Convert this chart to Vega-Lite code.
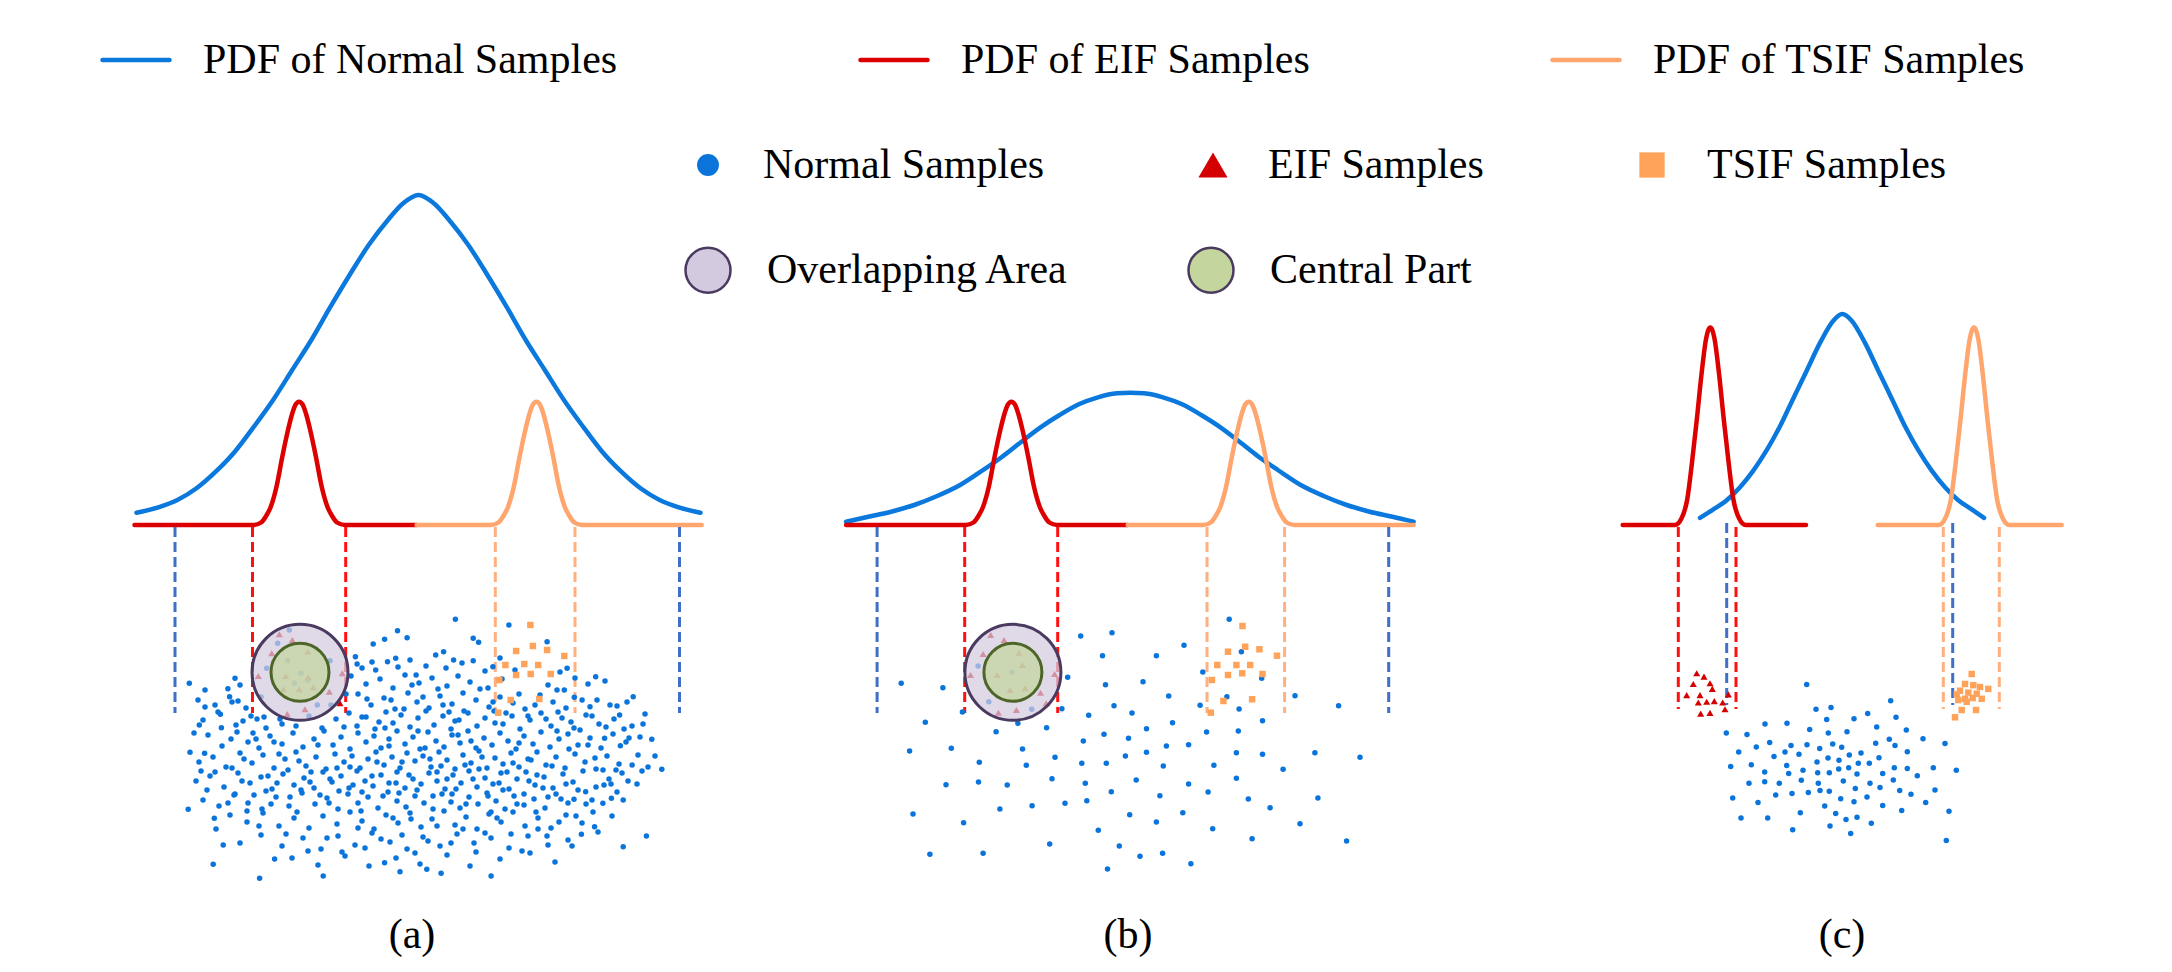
{
"$schema":"https://vega.github.io/schema/vega-lite/v6.json",
"width":2172,"height":972,
"autosize":{"type":"fit","contains":"padding"},
"padding":0,
"background":"white",
"config":{"view":{"stroke":null}},
"datasets":{
"curves":[
{"c":"aN","s":"PN","x":136.5,"y":512.7},{"c":"aN","s":"PN","x":158.3,"y":507.3},{"c":"aN","s":"PN","x":177.4,"y":500},{"c":"aN","s":"PN","x":196.5,"y":488.3},{"c":"aN","s":"PN","x":215.7,"y":471.7},{"c":"aN","s":"PN","x":234.8,"y":451.7},{"c":"aN","s":"PN","x":253.9,"y":426.7},{"c":"aN","s":"PN","x":273.1,"y":400},{"c":"aN","s":"PN","x":292.2,"y":370},{"c":"aN","s":"PN","x":311.3,"y":340},{"c":"aN","s":"PN","x":330.5,"y":306.7},{"c":"aN","s":"PN","x":349.6,"y":275},{"c":"aN","s":"PN","x":368.7,"y":245},{"c":"aN","s":"PN","x":387.9,"y":220},{"c":"aN","s":"PN","x":403.2,"y":203.3},{"c":"aN","s":"PN","x":418.5,"y":195},{"c":"aN","s":"PN","x":433.8,"y":203.3},{"c":"aN","s":"PN","x":449.1,"y":220},{"c":"aN","s":"PN","x":468.3,"y":245},{"c":"aN","s":"PN","x":487.4,"y":275},{"c":"aN","s":"PN","x":506.5,"y":306.7},{"c":"aN","s":"PN","x":525.7,"y":340},{"c":"aN","s":"PN","x":544.8,"y":370},{"c":"aN","s":"PN","x":563.9,"y":400},{"c":"aN","s":"PN","x":583.1,"y":426.7},{"c":"aN","s":"PN","x":602.2,"y":451.7},{"c":"aN","s":"PN","x":621.3,"y":471.7},{"c":"aN","s":"PN","x":640.5,"y":488.3},{"c":"aN","s":"PN","x":659.6,"y":500},{"c":"aN","s":"PN","x":678.7,"y":507.3},{"c":"aN","s":"PN","x":700.5,"y":512.7},
{"c":"aE","s":"PE","x":134.5,"y":525},{"c":"aE","s":"PE","x":253.6,"y":525},{"c":"aE","s":"PE","x":261.1,"y":522.5},{"c":"aE","s":"PE","x":266.1,"y":516},{"c":"aE","s":"PE","x":270.8,"y":506.7},{"c":"aE","s":"PE","x":276.5,"y":486.7},{"c":"aE","s":"PE","x":282.3,"y":456.7},{"c":"aE","s":"PE","x":288,"y":430},{"c":"aE","s":"PE","x":292.1,"y":414},{"c":"aE","s":"PE","x":295.6,"y":404.5},{"c":"aE","s":"PE","x":299.1,"y":401.7},{"c":"aE","s":"PE","x":302.6,"y":404.5},{"c":"aE","s":"PE","x":306.1,"y":414},{"c":"aE","s":"PE","x":310.2,"y":430},{"c":"aE","s":"PE","x":315.9,"y":456.7},{"c":"aE","s":"PE","x":321.7,"y":486.7},{"c":"aE","s":"PE","x":327.4,"y":506.7},{"c":"aE","s":"PE","x":332.1,"y":516},{"c":"aE","s":"PE","x":337.1,"y":522.5},{"c":"aE","s":"PE","x":344.6,"y":525},{"c":"aE","s":"PE","x":416.6,"y":525},
{"c":"aT","s":"PT","x":416.6,"y":525},{"c":"aT","s":"PT","x":490.9,"y":525},{"c":"aT","s":"PT","x":498.4,"y":522.5},{"c":"aT","s":"PT","x":503.4,"y":516},{"c":"aT","s":"PT","x":508.1,"y":506.7},{"c":"aT","s":"PT","x":513.8,"y":486.7},{"c":"aT","s":"PT","x":519.6,"y":456.7},{"c":"aT","s":"PT","x":525.3,"y":430},{"c":"aT","s":"PT","x":529.4,"y":414},{"c":"aT","s":"PT","x":532.9,"y":404.5},{"c":"aT","s":"PT","x":536.4,"y":401.7},{"c":"aT","s":"PT","x":539.9,"y":404.5},{"c":"aT","s":"PT","x":543.4,"y":414},{"c":"aT","s":"PT","x":547.5,"y":430},{"c":"aT","s":"PT","x":553.2,"y":456.7},{"c":"aT","s":"PT","x":559,"y":486.7},{"c":"aT","s":"PT","x":564.7,"y":506.7},{"c":"aT","s":"PT","x":569.4,"y":516},{"c":"aT","s":"PT","x":574.4,"y":522.5},{"c":"aT","s":"PT","x":581.9,"y":525},{"c":"aT","s":"PT","x":701.7,"y":525},
{"c":"bN","s":"PN","x":846.1,"y":521.7},{"c":"bN","s":"PN","x":868.3,"y":516.7},{"c":"bN","s":"PN","x":891.2,"y":511.7},{"c":"bN","s":"PN","x":914.2,"y":505},{"c":"bN","s":"PN","x":937.2,"y":496},{"c":"bN","s":"PN","x":960.1,"y":485},{"c":"bN","s":"PN","x":983.1,"y":470},{"c":"bN","s":"PN","x":1002.2,"y":456.7},{"c":"bN","s":"PN","x":1021.4,"y":441.7},{"c":"bN","s":"PN","x":1040.5,"y":427.3},{"c":"bN","s":"PN","x":1059.6,"y":415},{"c":"bN","s":"PN","x":1078.8,"y":404.3},{"c":"bN","s":"PN","x":1097.9,"y":397.3},{"c":"bN","s":"PN","x":1117,"y":393.3},{"c":"bN","s":"PN","x":1130.4,"y":392.7},{"c":"bN","s":"PN","x":1143.8,"y":393.3},{"c":"bN","s":"PN","x":1163,"y":397.3},{"c":"bN","s":"PN","x":1182.1,"y":404.3},{"c":"bN","s":"PN","x":1201.2,"y":415},{"c":"bN","s":"PN","x":1220.4,"y":427.3},{"c":"bN","s":"PN","x":1239.5,"y":441.7},{"c":"bN","s":"PN","x":1258.6,"y":456.7},{"c":"bN","s":"PN","x":1277.8,"y":470},{"c":"bN","s":"PN","x":1300.7,"y":485},{"c":"bN","s":"PN","x":1323.7,"y":496},{"c":"bN","s":"PN","x":1346.7,"y":505},{"c":"bN","s":"PN","x":1369.6,"y":511.7},{"c":"bN","s":"PN","x":1392.6,"y":516.7},{"c":"bN","s":"PN","x":1413.6,"y":521.7},
{"c":"bE","s":"PE","x":846.1,"y":525},{"c":"bE","s":"PE","x":965.9,"y":525},{"c":"bE","s":"PE","x":973.4,"y":522.5},{"c":"bE","s":"PE","x":978.4,"y":516},{"c":"bE","s":"PE","x":983.1,"y":506.7},{"c":"bE","s":"PE","x":988.8,"y":486.7},{"c":"bE","s":"PE","x":994.6,"y":456.7},{"c":"bE","s":"PE","x":1000.3,"y":430},{"c":"bE","s":"PE","x":1004.4,"y":414},{"c":"bE","s":"PE","x":1007.9,"y":404.5},{"c":"bE","s":"PE","x":1011.4,"y":401.7},{"c":"bE","s":"PE","x":1014.9,"y":404.5},{"c":"bE","s":"PE","x":1018.4,"y":414},{"c":"bE","s":"PE","x":1022.5,"y":430},{"c":"bE","s":"PE","x":1028.2,"y":456.7},{"c":"bE","s":"PE","x":1034,"y":486.7},{"c":"bE","s":"PE","x":1039.7,"y":506.7},{"c":"bE","s":"PE","x":1044.4,"y":516},{"c":"bE","s":"PE","x":1049.4,"y":522.5},{"c":"bE","s":"PE","x":1056.9,"y":525},{"c":"bE","s":"PE","x":1127.7,"y":525},
{"c":"bT","s":"PT","x":1127.7,"y":525},{"c":"bT","s":"PT","x":1203.2,"y":525},{"c":"bT","s":"PT","x":1210.7,"y":522.5},{"c":"bT","s":"PT","x":1215.7,"y":516},{"c":"bT","s":"PT","x":1220.4,"y":506.7},{"c":"bT","s":"PT","x":1226.1,"y":486.7},{"c":"bT","s":"PT","x":1231.9,"y":456.7},{"c":"bT","s":"PT","x":1237.6,"y":430},{"c":"bT","s":"PT","x":1241.7,"y":414},{"c":"bT","s":"PT","x":1245.2,"y":404.5},{"c":"bT","s":"PT","x":1248.7,"y":401.7},{"c":"bT","s":"PT","x":1252.2,"y":404.5},{"c":"bT","s":"PT","x":1255.7,"y":414},{"c":"bT","s":"PT","x":1259.8,"y":430},{"c":"bT","s":"PT","x":1265.5,"y":456.7},{"c":"bT","s":"PT","x":1271.3,"y":486.7},{"c":"bT","s":"PT","x":1277,"y":506.7},{"c":"bT","s":"PT","x":1281.7,"y":516},{"c":"bT","s":"PT","x":1286.7,"y":522.5},{"c":"bT","s":"PT","x":1294.2,"y":525},{"c":"bT","s":"PT","x":1413.6,"y":525},
{"c":"cN","s":"PN","x":1700,"y":517.9},{"c":"cN","s":"PN","x":1713.3,"y":509.4},{"c":"cN","s":"PN","x":1726.7,"y":500.2},{"c":"cN","s":"PN","x":1740,"y":487.2},{"c":"cN","s":"PN","x":1753.3,"y":470.6},{"c":"cN","s":"PN","x":1766.7,"y":450.2},{"c":"cN","s":"PN","x":1780,"y":426.2},{"c":"cN","s":"PN","x":1793.3,"y":398.4},{"c":"cN","s":"PN","x":1806.7,"y":370.7},{"c":"cN","s":"PN","x":1820,"y":342.9},{"c":"cN","s":"PN","x":1833.3,"y":320.7},{"c":"cN","s":"PN","x":1842.3,"y":314},{"c":"cN","s":"PN","x":1851.7,"y":320.7},{"c":"cN","s":"PN","x":1865,"y":342.9},{"c":"cN","s":"PN","x":1878.3,"y":370.7},{"c":"cN","s":"PN","x":1891.7,"y":398.4},{"c":"cN","s":"PN","x":1905,"y":426.2},{"c":"cN","s":"PN","x":1918.3,"y":450.2},{"c":"cN","s":"PN","x":1931.7,"y":470.6},{"c":"cN","s":"PN","x":1945,"y":487.2},{"c":"cN","s":"PN","x":1958.3,"y":500.2},{"c":"cN","s":"PN","x":1971.7,"y":509.4},{"c":"cN","s":"PN","x":1984,"y":517.9},
{"c":"cE","s":"PE","x":1622.7,"y":525},{"c":"cE","s":"PE","x":1675,"y":525},{"c":"cE","s":"PE","x":1681.7,"y":518},{"c":"cE","s":"PE","x":1687.3,"y":499},{"c":"cE","s":"PE","x":1691.7,"y":465},{"c":"cE","s":"PE","x":1696.7,"y":420.6},{"c":"cE","s":"PE","x":1701.7,"y":372.5},{"c":"cE","s":"PE","x":1706,"y":339.2},{"c":"cE","s":"PE","x":1708.3,"y":330},{"c":"cE","s":"PE","x":1710.3,"y":327.4},{"c":"cE","s":"PE","x":1712.3,"y":330},{"c":"cE","s":"PE","x":1714.6,"y":339.2},{"c":"cE","s":"PE","x":1718.9,"y":372.5},{"c":"cE","s":"PE","x":1723.9,"y":420.6},{"c":"cE","s":"PE","x":1728.9,"y":465},{"c":"cE","s":"PE","x":1733.3,"y":499},{"c":"cE","s":"PE","x":1738.9,"y":518},{"c":"cE","s":"PE","x":1745.6,"y":525},{"c":"cE","s":"PE","x":1806,"y":525},
{"c":"cT","s":"PT","x":1877.7,"y":525},{"c":"cT","s":"PT","x":1938.7,"y":525},{"c":"cT","s":"PT","x":1945.4,"y":518},{"c":"cT","s":"PT","x":1951,"y":499},{"c":"cT","s":"PT","x":1955.4,"y":465},{"c":"cT","s":"PT","x":1960.4,"y":420.6},{"c":"cT","s":"PT","x":1965.4,"y":372.5},{"c":"cT","s":"PT","x":1969.7,"y":339.2},{"c":"cT","s":"PT","x":1972,"y":330},{"c":"cT","s":"PT","x":1974,"y":327.4},{"c":"cT","s":"PT","x":1976,"y":330},{"c":"cT","s":"PT","x":1978.3,"y":339.2},{"c":"cT","s":"PT","x":1982.6,"y":372.5},{"c":"cT","s":"PT","x":1987.6,"y":420.6},{"c":"cT","s":"PT","x":1992.6,"y":465},{"c":"cT","s":"PT","x":1997,"y":499},{"c":"cT","s":"PT","x":2002.6,"y":518},{"c":"cT","s":"PT","x":2009.3,"y":525},{"c":"cT","s":"PT","x":2061.7,"y":525}
],
"rules":[
{"d":"N","x":175,"y":527,"y2":713},{"d":"N","x":679.5,"y":527,"y2":713},{"d":"E","x":252.5,"y":527,"y2":713},{"d":"E","x":345.7,"y":527,"y2":713},{"d":"T","x":495.3,"y":527,"y2":713},{"d":"T","x":575,"y":527,"y2":713},
{"d":"N","x":877.1,"y":527,"y2":713},{"d":"N","x":1388.7,"y":527,"y2":713},{"d":"E","x":964.7,"y":527,"y2":713},{"d":"E","x":1057.7,"y":527,"y2":713},{"d":"T","x":1207,"y":527,"y2":713},{"d":"T","x":1284.6,"y":527,"y2":713},
{"d":"E","x":1678.3,"y":527,"y2":709},{"d":"E","x":1736,"y":527,"y2":709},{"d":"N","x":1726.7,"y":523,"y2":705},{"d":"N","x":1952.7,"y":523,"y2":705},{"d":"T","x":1943.3,"y":527,"y2":709},{"d":"T","x":1999.3,"y":527,"y2":709}
],
"pts":[
{"k":"N","x":189.3,"y":683.3},{"k":"N","x":199.3,"y":725},{"k":"N","x":190,"y":752.3},{"k":"N","x":204.6,"y":753.3},{"k":"N","x":188.2,"y":809.3},{"k":"N","x":214.3,"y":818.3},{"k":"N","x":213.2,"y":864.3},{"k":"N","x":223.2,"y":845},{"k":"N","x":259.6,"y":878.3},{"k":"N","x":274.6,"y":859},{"k":"N","x":323.2,"y":876},{"k":"N","x":235,"y":678.3},{"k":"N","x":227.9,"y":688.7},{"k":"N","x":229.6,"y":696.7},{"k":"N","x":220.4,"y":714.3},{"k":"N","x":221.4,"y":727.7},{"k":"N","x":455.4,"y":619.3},{"k":"N","x":397.5,"y":630.7},{"k":"N","x":407.1,"y":637.7},{"k":"N","x":384.6,"y":639.3},{"k":"N","x":373.2,"y":644},{"k":"N","x":508.9,"y":625},{"k":"N","x":473.2,"y":638.3},{"k":"N","x":478.6,"y":642.3},{"k":"N","x":595.7,"y":676.7},{"k":"N","x":633.2,"y":696.7},{"k":"N","x":619.6,"y":715},{"k":"N","x":651.8,"y":739.3},{"k":"N","x":661.8,"y":769.3},{"k":"N","x":646.4,"y":836},{"k":"N","x":623.2,"y":846.7},{"k":"N","x":581.4,"y":834.3},{"k":"N","x":491.1,"y":876},{"k":"N","x":441.1,"y":873.3},{"k":"N","x":426.8,"y":869.3},{"k":"N","x":400,"y":871.7},{"k":"N","x":384.6,"y":862.7},{"k":"N","x":355.4,"y":656.7},{"k":"N","x":357.1,"y":664},{"k":"N","x":375.7,"y":670},{"k":"N","x":387.5,"y":661.7},{"k":"N","x":395.7,"y":658.3},{"k":"N","x":416.1,"y":675},{"k":"N","x":435.7,"y":655},{"k":"N","x":443.6,"y":651.7},{"k":"N","x":453.6,"y":660},{"k":"N","x":473.2,"y":660.7},{"k":"N","x":492.9,"y":666.7},{"k":"N","x":547.1,"y":641.7},{"k":"N","x":567.1,"y":668.3},{"k":"N","x":564.3,"y":690},{"k":"N","x":574.3,"y":697.3},{"k":"N","x":582.1,"y":700},{"k":"N","x":590,"y":706.7},{"k":"N","x":604.6,"y":738.3},{"k":"N","x":620.4,"y":745.7},{"k":"N","x":632.1,"y":765},{"k":"N","x":623.2,"y":800},{"k":"N","x":611.4,"y":798.3},{"k":"N","x":602.9,"y":803.3},{"k":"N","x":594.6,"y":826.7},{"k":"N","x":585.7,"y":791.7},{"k":"N","x":574,"y":799.3},
{"k":"N","x":362,"y":668},{"k":"N","x":372,"y":662},{"k":"N","x":398,"y":667},{"k":"N","x":410,"y":660},{"k":"N","x":426,"y":666},{"k":"N","x":446,"y":668},{"k":"N","x":462,"y":663},{"k":"N","x":485,"y":671},{"k":"N","x":500,"y":658},{"k":"N","x":515,"y":670},{"k":"N","x":560,"y":672},{"k":"N","x":575,"y":678},
{"k":"N","x":205,"y":690},{"k":"N","x":240,"y":685},{"k":"N","x":351,"y":676},{"k":"N","x":366,"y":684},{"k":"N","x":380,"y":679},{"k":"N","x":393,"y":688},{"k":"N","x":405,"y":675},{"k":"N","x":419,"y":683},{"k":"N","x":432,"y":678},{"k":"N","x":447,"y":686},{"k":"N","x":458,"y":676},{"k":"N","x":470,"y":682},{"k":"N","x":488,"y":688},{"k":"N","x":502,"y":679},{"k":"N","x":548,"y":685},{"k":"N","x":557,"y":690},{"k":"N","x":588,"y":684},{"k":"N","x":605,"y":681},
{"k":"N","x":198,"y":700},{"k":"N","x":215,"y":705},{"k":"N","x":232,"y":702},{"k":"N","x":246,"y":708},{"k":"N","x":261,"y":697},{"k":"N","x":358,"y":694},{"k":"N","x":371,"y":705},{"k":"N","x":384,"y":698},{"k":"N","x":395,"y":709},{"k":"N","x":408,"y":693},{"k":"N","x":417,"y":702},{"k":"N","x":429,"y":708},{"k":"N","x":440,"y":696},{"k":"N","x":452,"y":704},{"k":"N","x":463,"y":693},{"k":"N","x":476,"y":700},{"k":"N","x":489,"y":707},{"k":"N","x":500,"y":697},{"k":"N","x":513,"y":703},{"k":"N","x":525,"y":709},{"k":"N","x":540,"y":695},{"k":"N","x":553,"y":702},{"k":"N","x":566,"y":708},{"k":"N","x":597,"y":700},{"k":"N","x":610,"y":705},{"k":"N","x":627,"y":702},
{"k":"N","x":203,"y":720},{"k":"N","x":218,"y":712},{"k":"N","x":236,"y":725},{"k":"N","x":251,"y":716},{"k":"N","x":266,"y":728},{"k":"N","x":280,"y":719},{"k":"N","x":296,"y":726},{"k":"N","x":309,"y":716},{"k":"N","x":322,"y":728},{"k":"N","x":336,"y":719},{"k":"N","x":349,"y":713},{"k":"N","x":357,"y":726},{"k":"N","x":366,"y":717},{"k":"N","x":375,"y":729},{"k":"N","x":386,"y":712},{"k":"N","x":393,"y":723},{"k":"N","x":401,"y":715},{"k":"N","x":410,"y":727},{"k":"N","x":418,"y":718},{"k":"N","x":426,"y":711},{"k":"N","x":434,"y":725},{"k":"N","x":443,"y":716},{"k":"N","x":451,"y":729},{"k":"N","x":459,"y":720},{"k":"N","x":468,"y":713},{"k":"N","x":477,"y":726},{"k":"N","x":485,"y":718},{"k":"N","x":494,"y":711},{"k":"N","x":503,"y":724},{"k":"N","x":512,"y":716},{"k":"N","x":520,"y":729},{"k":"N","x":530,"y":720},{"k":"N","x":541,"y":713},{"k":"N","x":551,"y":726},{"k":"N","x":562,"y":718},{"k":"N","x":574,"y":728},{"k":"N","x":586,"y":715},{"k":"N","x":599,"y":724},{"k":"N","x":614,"y":719},{"k":"N","x":632,"y":726},{"k":"N","x":645,"y":714},
{"k":"N","x":208,"y":735},{"k":"N","x":222,"y":746},{"k":"N","x":237,"y":732},{"k":"N","x":248,"y":742},{"k":"N","x":259,"y":748},{"k":"N","x":270,"y":736},{"k":"N","x":282,"y":744},{"k":"N","x":293,"y":733},{"k":"N","x":303,"y":747},{"k":"N","x":314,"y":739},{"k":"N","x":324,"y":731},{"k":"N","x":333,"y":745},{"k":"N","x":341,"y":737},{"k":"N","x":350,"y":749},{"k":"N","x":358,"y":733},{"k":"N","x":366,"y":742},{"k":"N","x":374,"y":736},{"k":"N","x":381,"y":748},{"k":"N","x":389,"y":739},{"k":"N","x":397,"y":731},{"k":"N","x":405,"y":744},{"k":"N","x":413,"y":737},{"k":"N","x":420,"y":749},{"k":"N","x":428,"y":732},{"k":"N","x":436,"y":741},{"k":"N","x":444,"y":747},{"k":"N","x":452,"y":735},{"k":"N","x":460,"y":743},{"k":"N","x":468,"y":731},{"k":"N","x":476,"y":748},{"k":"N","x":484,"y":738},{"k":"N","x":492,"y":745},{"k":"N","x":500,"y":733},{"k":"N","x":508,"y":741},{"k":"N","x":516,"y":749},{"k":"N","x":524,"y":736},{"k":"N","x":533,"y":744},{"k":"N","x":541,"y":732},{"k":"N","x":550,"y":747},{"k":"N","x":559,"y":739},{"k":"N","x":568,"y":734},{"k":"N","x":578,"y":745},{"k":"N","x":590,"y":738},{"k":"N","x":601,"y":748},{"k":"N","x":613,"y":734},{"k":"N","x":626,"y":742},{"k":"N","x":640,"y":737},
{"k":"N","x":199,"y":762},{"k":"N","x":213,"y":757},{"k":"N","x":226,"y":767},{"k":"N","x":240,"y":753},{"k":"N","x":252,"y":763},{"k":"N","x":263,"y":755},{"k":"N","x":274,"y":768},{"k":"N","x":285,"y":759},{"k":"N","x":296,"y":752},{"k":"N","x":306,"y":766},{"k":"N","x":316,"y":757},{"k":"N","x":326,"y":769},{"k":"N","x":335,"y":754},{"k":"N","x":344,"y":762},{"k":"N","x":352,"y":756},{"k":"N","x":360,"y":768},{"k":"N","x":368,"y":759},{"k":"N","x":376,"y":752},{"k":"N","x":384,"y":765},{"k":"N","x":392,"y":757},{"k":"N","x":400,"y":768},{"k":"N","x":407,"y":753},{"k":"N","x":415,"y":761},{"k":"N","x":423,"y":756},{"k":"N","x":431,"y":767},{"k":"N","x":439,"y":752},{"k":"N","x":447,"y":760},{"k":"N","x":455,"y":769},{"k":"N","x":463,"y":755},{"k":"N","x":471,"y":763},{"k":"N","x":479,"y":751},{"k":"N","x":487,"y":768},{"k":"N","x":495,"y":758},{"k":"N","x":503,"y":764},{"k":"N","x":511,"y":753},{"k":"N","x":519,"y":767},{"k":"N","x":528,"y":759},{"k":"N","x":537,"y":752},{"k":"N","x":546,"y":765},{"k":"N","x":556,"y":757},{"k":"N","x":565,"y":768},{"k":"N","x":575,"y":754},{"k":"N","x":585,"y":762},{"k":"N","x":596,"y":769},{"k":"N","x":607,"y":756},{"k":"N","x":619,"y":764},{"k":"N","x":648,"y":767},
{"k":"N","x":196,"y":781},{"k":"N","x":210,"y":776},{"k":"N","x":224,"y":787},{"k":"N","x":238,"y":773},{"k":"N","x":250,"y":783},{"k":"N","x":261,"y":777},{"k":"N","x":272,"y":789},{"k":"N","x":283,"y":774},{"k":"N","x":294,"y":785},{"k":"N","x":304,"y":778},{"k":"N","x":314,"y":788},{"k":"N","x":323,"y":772},{"k":"N","x":332,"y":782},{"k":"N","x":341,"y":776},{"k":"N","x":349,"y":788},{"k":"N","x":357,"y":771},{"k":"N","x":365,"y":781},{"k":"N","x":373,"y":786},{"k":"N","x":381,"y":775},{"k":"N","x":389,"y":783},{"k":"N","x":397,"y":772},{"k":"N","x":405,"y":788},{"k":"N","x":413,"y":779},{"k":"N","x":421,"y":784},{"k":"N","x":429,"y":773},{"k":"N","x":437,"y":781},{"k":"N","x":445,"y":789},{"k":"N","x":453,"y":775},{"k":"N","x":461,"y":783},{"k":"N","x":469,"y":771},{"k":"N","x":477,"y":787},{"k":"N","x":485,"y":778},{"k":"N","x":493,"y":784},{"k":"N","x":501,"y":773},{"k":"N","x":509,"y":789},{"k":"N","x":517,"y":779},{"k":"N","x":526,"y":772},{"k":"N","x":535,"y":785},{"k":"N","x":544,"y":777},{"k":"N","x":553,"y":788},{"k":"N","x":563,"y":774},{"k":"N","x":573,"y":782},{"k":"N","x":596,"y":787},{"k":"N","x":609,"y":779},{"k":"N","x":622,"y":773},{"k":"N","x":637,"y":784},
{"k":"N","x":203,"y":800},{"k":"N","x":219,"y":806},{"k":"N","x":234,"y":795},{"k":"N","x":248,"y":803},{"k":"N","x":262,"y":809},{"k":"N","x":276,"y":797},{"k":"N","x":289,"y":806},{"k":"N","x":302,"y":793},{"k":"N","x":315,"y":804},{"k":"N","x":327,"y":798},{"k":"N","x":338,"y":809},{"k":"N","x":348,"y":794},{"k":"N","x":358,"y":803},{"k":"N","x":368,"y":797},{"k":"N","x":378,"y":808},{"k":"N","x":388,"y":792},{"k":"N","x":397,"y":801},{"k":"N","x":406,"y":807},{"k":"N","x":415,"y":796},{"k":"N","x":424,"y":803},{"k":"N","x":433,"y":809},{"k":"N","x":442,"y":794},{"k":"N","x":451,"y":802},{"k":"N","x":460,"y":808},{"k":"N","x":469,"y":797},{"k":"N","x":478,"y":804},{"k":"N","x":487,"y":793},{"k":"N","x":496,"y":801},{"k":"N","x":505,"y":809},{"k":"N","x":514,"y":796},{"k":"N","x":524,"y":805},{"k":"N","x":534,"y":799},{"k":"N","x":545,"y":808},{"k":"N","x":556,"y":794},{"k":"N","x":568,"y":803},{"k":"N","x":593,"y":812},
{"k":"N","x":230,"y":815},{"k":"N","x":247,"y":822},{"k":"N","x":263,"y":813},{"k":"N","x":279,"y":826},{"k":"N","x":294,"y":818},{"k":"N","x":309,"y":828},{"k":"N","x":323,"y":816},{"k":"N","x":337,"y":824},{"k":"N","x":350,"y":812},{"k":"N","x":362,"y":821},{"k":"N","x":374,"y":829},{"k":"N","x":386,"y":815},{"k":"N","x":398,"y":823},{"k":"N","x":410,"y":813},{"k":"N","x":421,"y":827},{"k":"N","x":432,"y":819},{"k":"N","x":444,"y":811},{"k":"N","x":455,"y":825},{"k":"N","x":466,"y":817},{"k":"N","x":477,"y":829},{"k":"N","x":489,"y":814},{"k":"N","x":501,"y":822},{"k":"N","x":513,"y":812},{"k":"N","x":525,"y":826},{"k":"N","x":538,"y":818},{"k":"N","x":551,"y":828},{"k":"N","x":566,"y":815},{"k":"N","x":582,"y":823},
{"k":"N","x":240,"y":843},{"k":"N","x":261,"y":835},{"k":"N","x":282,"y":846},{"k":"N","x":303,"y":838},{"k":"N","x":321,"y":849},{"k":"N","x":338,"y":836},{"k":"N","x":355,"y":845},{"k":"N","x":372,"y":833},{"k":"N","x":390,"y":842},{"k":"N","x":407,"y":849},{"k":"N","x":423,"y":837},{"k":"N","x":440,"y":846},{"k":"N","x":457,"y":834},{"k":"N","x":474,"y":843},{"k":"N","x":491,"y":838},{"k":"N","x":509,"y":848},{"k":"N","x":528,"y":836},{"k":"N","x":548,"y":845},{"k":"N","x":568,"y":840},
{"k":"N","x":292,"y":858},{"k":"N","x":318,"y":865},{"k":"N","x":345,"y":856},{"k":"N","x":369,"y":866},{"k":"N","x":396,"y":858},{"k":"N","x":420,"y":864},{"k":"N","x":447,"y":855},{"k":"N","x":470,"y":866},{"k":"N","x":500,"y":859},{"k":"N","x":530,"y":853},{"k":"N","x":555,"y":862},
{"k":"N","x":331,"y":705},{"k":"N","x":344,"y":727},{"k":"N","x":367,"y":699},{"k":"N","x":389,"y":746},{"k":"N","x":402,"y":762},{"k":"N","x":418,"y":731},{"k":"N","x":437,"y":772},{"k":"N","x":449,"y":712},{"k":"N","x":456,"y":789},{"k":"N","x":471,"y":741},{"k":"N","x":482,"y":757},{"k":"N","x":495,"y":723},{"k":"N","x":507,"y":772},{"k":"N","x":519,"y":743},{"k":"N","x":531,"y":760},{"k":"N","x":543,"y":788},{"k":"N","x":557,"y":731},{"k":"N","x":569,"y":749},{"k":"N","x":583,"y":771},{"k":"N","x":595,"y":758},{"k":"N","x":611,"y":784},{"k":"N","x":624,"y":729},{"k":"N","x":638,"y":755},{"k":"N","x":353,"y":785},{"k":"N","x":361,"y":811},{"k":"N","x":377,"y":762},{"k":"N","x":385,"y":728},{"k":"N","x":399,"y":793},{"k":"N","x":411,"y":819},{"k":"N","x":425,"y":748},{"k":"N","x":433,"y":796},{"k":"N","x":447,"y":779},{"k":"N","x":458,"y":735},{"k":"N","x":466,"y":804},{"k":"N","x":479,"y":769},{"k":"N","x":491,"y":812},{"k":"N","x":503,"y":790},{"k":"N","x":517,"y":804},{"k":"N","x":529,"y":781},{"k":"N","x":538,"y":829},{"k":"N","x":552,"y":766},{"k":"N","x":561,"y":799},{"k":"N","x":576,"y":816},{"k":"N","x":588,"y":745},{"k":"N","x":603,"y":770},{"k":"N","x":617,"y":792},{"k":"N","x":244,"y":759},{"k":"N","x":256,"y":739},{"k":"N","x":268,"y":776},{"k":"N","x":279,"y":754},{"k":"N","x":290,"y":797},{"k":"N","x":299,"y":761},{"k":"N","x":310,"y":782},{"k":"N","x":318,"y":745},{"k":"N","x":329,"y":803},{"k":"N","x":337,"y":768},{"k":"N","x":235,"y":794},{"k":"N","x":247,"y":811},{"k":"N","x":259,"y":826},{"k":"N","x":271,"y":804},{"k":"N","x":286,"y":834},{"k":"N","x":297,"y":812},{"k":"N","x":308,"y":851},{"k":"N","x":327,"y":838},{"k":"N","x":342,"y":852},{"k":"N","x":358,"y":828},{"k":"N","x":365,"y":848},{"k":"N","x":381,"y":839},{"k":"N","x":393,"y":818},{"k":"N","x":402,"y":835},{"k":"N","x":415,"y":853},{"k":"N","x":428,"y":841},{"k":"N","x":437,"y":826},{"k":"N","x":451,"y":843},{"k":"N","x":463,"y":829},{"k":"N","x":476,"y":852},{"k":"N","x":485,"y":833},{"k":"N","x":497,"y":818},{"k":"N","x":511,"y":834},{"k":"N","x":522,"y":851},{"k":"N","x":536,"y":812},{"k":"N","x":547,"y":836},{"k":"N","x":559,"y":822},{"k":"N","x":572,"y":846},{"k":"N","x":586,"y":804},{"k":"N","x":598,"y":832},{"k":"N","x":612,"y":816},{"k":"N","x":282,"y":724},{"k":"N","x":274,"y":742},{"k":"N","x":264,"y":717},{"k":"N","x":253,"y":733},{"k":"N","x":243,"y":721},{"k":"N","x":231,"y":739},{"k":"N","x":215,"y":772},{"k":"N","x":207,"y":790},{"k":"N","x":228,"y":803},{"k":"N","x":216,"y":829},{"k":"N","x":201,"y":771},{"k":"N","x":194,"y":733},{"k":"N","x":205,"y":707},{"k":"N","x":238,"y":701},{"k":"N","x":257,"y":719},{"k":"N","x":346,"y":694},{"k":"N","x":362,"y":717},{"k":"N","x":379,"y":722},{"k":"N","x":391,"y":700},{"k":"N","x":404,"y":709},{"k":"N","x":412,"y":685},{"k":"N","x":423,"y":697},{"k":"N","x":438,"y":689},{"k":"N","x":443,"y":705},{"k":"N","x":455,"y":721},{"k":"N","x":464,"y":711},{"k":"N","x":480,"y":689},{"k":"N","x":493,"y":702},{"k":"N","x":506,"y":713},{"k":"N","x":519,"y":694},{"k":"N","x":528,"y":716},{"k":"N","x":535,"y":705},{"k":"N","x":546,"y":719},{"k":"N","x":558,"y":712},{"k":"N","x":571,"y":722},{"k":"N","x":580,"y":730},{"k":"N","x":592,"y":716},{"k":"N","x":606,"y":727},{"k":"N","x":617,"y":706},{"k":"N","x":629,"y":738},{"k":"N","x":643,"y":724},{"k":"N","x":655,"y":756},{"k":"N","x":642,"y":771},{"k":"N","x":628,"y":781},{"k":"N","x":616,"y":770},{"k":"N","x":604,"y":785},{"k":"N","x":592,"y":800},{"k":"N","x":578,"y":790},{"k":"N","x":566,"y":784},{"k":"N","x":548,"y":797},{"k":"N","x":537,"y":775},{"k":"N","x":524,"y":794},{"k":"N","x":513,"y":763},{"k":"N","x":499,"y":783},{"k":"N","x":488,"y":796},{"k":"N","x":473,"y":779},{"k":"N","x":465,"y":765},{"k":"N","x":452,"y":794},{"k":"N","x":441,"y":766},{"k":"N","x":430,"y":759},{"k":"N","x":417,"y":790},{"k":"N","x":409,"y":775},{"k":"N","x":396,"y":783},{"k":"N","x":383,"y":796},{"k":"N","x":372,"y":776},{"k":"N","x":362,"y":792},{"k":"N","x":350,"y":767},{"k":"N","x":339,"y":791},{"k":"N","x":330,"y":779},{"k":"N","x":320,"y":795},{"k":"N","x":311,"y":772},{"k":"N","x":301,"y":790},{"k":"N","x":288,"y":770},{"k":"N","x":277,"y":783},{"k":"N","x":266,"y":791},{"k":"N","x":254,"y":795},{"k":"N","x":242,"y":781},{"k":"N","x":232,"y":768},
{"k":"N","x":289.3,"y":630},{"k":"N","x":277.7,"y":643.3},{"k":"N","x":287.7,"y":660.7},{"k":"N","x":301,"y":673.3},{"k":"N","x":307.7,"y":680},{"k":"N","x":294.3,"y":683.3},{"k":"N","x":330,"y":660.7},{"k":"N","x":266.7,"y":668.3},{"k":"N","x":317.3,"y":705},
{"k":"N","x":1229.2,"y":619.3},{"k":"N","x":1080.7,"y":636},{"k":"N","x":1112,"y":632.7},{"k":"N","x":1184,"y":645.3},{"k":"N","x":1102.5,"y":655.7},{"k":"N","x":1156.4,"y":655.7},{"k":"N","x":1241.4,"y":651.7},{"k":"N","x":1202.8,"y":672},{"k":"N","x":1067.7,"y":677.3},{"k":"N","x":901.2,"y":683.3},{"k":"N","x":942.9,"y":687.7},{"k":"N","x":1105.5,"y":684.7},{"k":"N","x":1143,"y":681.7},{"k":"N","x":1261.7,"y":678.3},{"k":"N","x":1168.7,"y":696},{"k":"N","x":1226.9,"y":696.7},{"k":"N","x":1295,"y":695.7},{"k":"N","x":1338.6,"y":705.7},{"k":"N","x":962.4,"y":712},{"k":"N","x":1061.9,"y":708.7},{"k":"N","x":1088.7,"y":715.3},{"k":"N","x":1114,"y":705.7},{"k":"N","x":1132,"y":713},{"k":"N","x":1200.1,"y":705.3},{"k":"N","x":1239.1,"y":709},{"k":"N","x":925.3,"y":722.3},{"k":"N","x":996.1,"y":731.7},{"k":"N","x":1017.9,"y":723.3},{"k":"N","x":1046.6,"y":727.7},{"k":"N","x":1104,"y":734.3},{"k":"N","x":1128.5,"y":738.3},{"k":"N","x":1146.5,"y":728.7},{"k":"N","x":1172.5,"y":722.7},{"k":"N","x":1206.6,"y":732},{"k":"N","x":1238.3,"y":731},{"k":"N","x":1262.5,"y":720.7},{"k":"N","x":909.6,"y":751},{"k":"N","x":951.3,"y":748.3},{"k":"N","x":1022.5,"y":749},{"k":"N","x":1083.3,"y":741},{"k":"N","x":1166.4,"y":746},{"k":"N","x":1188.6,"y":744.7},{"k":"N","x":1236.4,"y":752.7},{"k":"N","x":1262.5,"y":754.3},{"k":"N","x":1314.9,"y":752.7},{"k":"N","x":1360,"y":757.3},{"k":"N","x":979.3,"y":762.3},{"k":"N","x":1026.3,"y":765.3},{"k":"N","x":1055,"y":757.3},{"k":"N","x":1081.8,"y":763.3},{"k":"N","x":1106.3,"y":763.3},{"k":"N","x":1125.4,"y":756},{"k":"N","x":1146.5,"y":752.3},{"k":"N","x":1163.3,"y":766},{"k":"N","x":1213.9,"y":765.3},{"k":"N","x":1283.1,"y":769.3},{"k":"N","x":946,"y":784.7},{"k":"N","x":978.5,"y":782},{"k":"N","x":1007.2,"y":785},{"k":"N","x":1052,"y":778.7},{"k":"N","x":1085.3,"y":783.3},{"k":"N","x":1136.2,"y":780},{"k":"N","x":1188.6,"y":784},{"k":"N","x":1236.4,"y":778.3},{"k":"N","x":1208.1,"y":792},{"k":"N","x":1111.3,"y":791.7},{"k":"N","x":1159.9,"y":795.7},{"k":"N","x":1248.3,"y":799},{"k":"N","x":1317.9,"y":798},{"k":"N","x":1270.1,"y":807.7},{"k":"N","x":913,"y":814},{"k":"N","x":963.6,"y":822.7},{"k":"N","x":999.9,"y":809},{"k":"N","x":1032.1,"y":805.7},{"k":"N","x":1065,"y":803.3},{"k":"N","x":1086.8,"y":800.7},{"k":"N","x":1129.7,"y":814.7},{"k":"N","x":1156.4,"y":822},{"k":"N","x":1182.8,"y":812.7},{"k":"N","x":1212.7,"y":828.7},{"k":"N","x":1300,"y":823.7},{"k":"N","x":1098.3,"y":830.3},{"k":"N","x":1252.1,"y":838.7},{"k":"N","x":1346.6,"y":841},{"k":"N","x":929.9,"y":854.3},{"k":"N","x":983.1,"y":853.3},{"k":"N","x":1049.7,"y":844},{"k":"N","x":1119.3,"y":846},{"k":"N","x":1140,"y":856.3},{"k":"N","x":1162.6,"y":853.3},{"k":"N","x":1190.9,"y":863.7},{"k":"N","x":1107.5,"y":869},
{"k":"N","x":1012.2,"y":672.3},{"k":"N","x":978.1,"y":666},{"k":"N","x":988.8,"y":701.7},{"k":"N","x":1031.7,"y":709.3},
{"k":"N","x":1806.7,"y":684.4},{"k":"N","x":1816,"y":709.2},{"k":"N","x":1831,"y":707.4},{"k":"N","x":1826.7,"y":719.6},{"k":"N","x":1854,"y":718.8},{"k":"N","x":1867.7,"y":713.6},{"k":"N","x":1890.7,"y":700.7},{"k":"N","x":1896,"y":717.3},{"k":"N","x":1726.3,"y":732.9},{"k":"N","x":1747,"y":734.4},{"k":"N","x":1765,"y":724},{"k":"N","x":1787,"y":723.3},{"k":"N","x":1809.7,"y":729.6},{"k":"N","x":1828.3,"y":732.9},{"k":"N","x":1847,"y":731.8},{"k":"N","x":1876.7,"y":727},{"k":"N","x":1906.3,"y":729.9},{"k":"N","x":1923,"y":738.8},{"k":"N","x":1945,"y":743.6},{"k":"N","x":1738.7,"y":752.1},{"k":"N","x":1756.3,"y":746.9},{"k":"N","x":1769.7,"y":742.5},{"k":"N","x":1785,"y":752.1},{"k":"N","x":1791,"y":745.5},{"k":"N","x":1799,"y":754.3},{"k":"N","x":1807,"y":744.7},{"k":"N","x":1819.7,"y":748.4},{"k":"N","x":1832.7,"y":744},{"k":"N","x":1841.7,"y":747.3},{"k":"N","x":1849.3,"y":755.1},{"k":"N","x":1861,"y":752.9},{"k":"N","x":1875.7,"y":743.2},{"k":"N","x":1889.3,"y":739.2},{"k":"N","x":1895,"y":745.5},{"k":"N","x":1907.3,"y":751.8},{"k":"N","x":1730.7,"y":766.6},{"k":"N","x":1751.3,"y":764.7},{"k":"N","x":1764.7,"y":772.1},{"k":"N","x":1774,"y":756.6},{"k":"N","x":1786.7,"y":765.4},{"k":"N","x":1788.7,"y":773.6},{"k":"N","x":1803,"y":770.3},{"k":"N","x":1817,"y":762.1},{"k":"N","x":1817.7,"y":772.8},{"k":"N","x":1828,"y":758},{"k":"N","x":1829.3,"y":772.8},{"k":"N","x":1839,"y":760.3},{"k":"N","x":1838.7,"y":769.1},{"k":"N","x":1848.7,"y":767.7},{"k":"N","x":1858.3,"y":763.2},{"k":"N","x":1857,"y":774},{"k":"N","x":1869.3,"y":763.2},{"k":"N","x":1879,"y":757.7},{"k":"N","x":1882.7,"y":773.6},{"k":"N","x":1894.3,"y":767.7},{"k":"N","x":1907.3,"y":768.4},{"k":"N","x":1917.3,"y":775.8},{"k":"N","x":1933.3,"y":767.7},{"k":"N","x":1956.3,"y":770.3},{"k":"N","x":1749,"y":783.2},{"k":"N","x":1764.7,"y":781.7},{"k":"N","x":1779.3,"y":783.2},{"k":"N","x":1801.3,"y":780.2},{"k":"N","x":1808.3,"y":792.5},{"k":"N","x":1818.3,"y":783.2},{"k":"N","x":1820,"y":790.6},{"k":"N","x":1829.3,"y":791.3},{"k":"N","x":1843.3,"y":781},{"k":"N","x":1855.3,"y":788.4},{"k":"N","x":1870,"y":783.2},{"k":"N","x":1880,"y":787.6},{"k":"N","x":1893.3,"y":779.9},{"k":"N","x":1899.7,"y":790.6},{"k":"N","x":1911,"y":794.3},{"k":"N","x":1935,"y":789.9},{"k":"N","x":1732.7,"y":798},{"k":"N","x":1775.7,"y":795},{"k":"N","x":1792,"y":793.6},{"k":"N","x":1840.7,"y":798.7},{"k":"N","x":1854,"y":801.7},{"k":"N","x":1867,"y":796.9},{"k":"N","x":1882.7,"y":805.4},{"k":"N","x":1901.7,"y":810.6},{"k":"N","x":1925.7,"y":802.4},{"k":"N","x":1758,"y":802.4},{"k":"N","x":1800.3,"y":812.8},{"k":"N","x":1824.7,"y":806.1},{"k":"N","x":1835.7,"y":813.5},{"k":"N","x":1846,"y":819.5},{"k":"N","x":1857,"y":817.2},{"k":"N","x":1871.3,"y":823.2},{"k":"N","x":1741,"y":818},{"k":"N","x":1767.7,"y":818},{"k":"N","x":1792.7,"y":829.8},{"k":"N","x":1830,"y":826.1},{"k":"N","x":1850.7,"y":833.5},{"k":"N","x":1949,"y":811.3},{"k":"N","x":1946.3,"y":840.6},
{"k":"E","x":279.3,"y":634.3},{"k":"E","x":292.3,"y":640},{"k":"E","x":271.7,"y":653.3},{"k":"E","x":307.7,"y":651.7},{"k":"E","x":258.3,"y":676},{"k":"E","x":285.7,"y":676},{"k":"E","x":308.3,"y":677.3},{"k":"E","x":342.3,"y":673.3},{"k":"E","x":283.3,"y":689.3},{"k":"E","x":299.3,"y":689.3},{"k":"E","x":313.3,"y":687.3},{"k":"E","x":329.3,"y":691.7},{"k":"E","x":305,"y":709.3},{"k":"E","x":287.3,"y":714},{"k":"E","x":340,"y":703.3},
{"k":"E","x":990.7,"y":635},{"k":"E","x":1004.1,"y":640},{"k":"E","x":983.1,"y":654},{"k":"E","x":1019.1,"y":652.7},{"k":"E","x":1022.5,"y":665},{"k":"E","x":970.5,"y":675},{"k":"E","x":997.2,"y":675},{"k":"E","x":1054.6,"y":674},{"k":"E","x":1009.9,"y":690},{"k":"E","x":1025.2,"y":688.3},{"k":"E","x":1040.5,"y":692.7},{"k":"E","x":1046.2,"y":703.3},{"k":"E","x":1016.4,"y":710},{"k":"E","x":998.4,"y":712.7},
{"k":"E","x":1696.7,"y":673.3},{"k":"E","x":1704,"y":676.6},{"k":"E","x":1693.3,"y":684},{"k":"E","x":1710,"y":683.3},{"k":"E","x":1712.3,"y":688.9},{"k":"E","x":1686.7,"y":695.1},{"k":"E","x":1700,"y":695.1},{"k":"E","x":1728.3,"y":694.4},{"k":"E","x":1698.3,"y":702.5},{"k":"E","x":1706.7,"y":701.8},{"k":"E","x":1714.3,"y":701.1},{"k":"E","x":1722.7,"y":702.5},{"k":"E","x":1700.7,"y":713.6},{"k":"E","x":1710,"y":712.9},{"k":"E","x":1725,"y":709.2},
{"k":"T","x":530.4,"y":625},{"k":"T","x":532.9,"y":646},{"k":"T","x":547.1,"y":650},{"k":"T","x":516.1,"y":651},{"k":"T","x":564.3,"y":656},{"k":"T","x":505.4,"y":665},{"k":"T","x":524.3,"y":664},{"k":"T","x":538.2,"y":665},{"k":"T","x":516.1,"y":675},{"k":"T","x":530.7,"y":674},{"k":"T","x":550.7,"y":674},{"k":"T","x":499.3,"y":680},{"k":"T","x":510.7,"y":700},{"k":"T","x":539.3,"y":699},{"k":"T","x":498.2,"y":712.7},
{"k":"T","x":1242.5,"y":626},{"k":"T","x":1228,"y":651.7},{"k":"T","x":1245.2,"y":646.7},{"k":"T","x":1259.4,"y":649.3},{"k":"T","x":1277,"y":655.7},{"k":"T","x":1217.3,"y":665},{"k":"T","x":1236.4,"y":665},{"k":"T","x":1250.2,"y":665},{"k":"T","x":1211.9,"y":680},{"k":"T","x":1228,"y":675},{"k":"T","x":1242.2,"y":673.3},{"k":"T","x":1262.5,"y":674},{"k":"T","x":1223.4,"y":701},{"k":"T","x":1252.1,"y":699.3},{"k":"T","x":1210.8,"y":712.7},
{"k":"T","x":1971.7,"y":674},{"k":"T","x":1965,"y":684},{"k":"T","x":1973.3,"y":685.2},{"k":"T","x":1980,"y":687},{"k":"T","x":1988.3,"y":688.9},{"k":"T","x":1960,"y":690.7},{"k":"T","x":1968.3,"y":692.6},{"k":"T","x":1976.7,"y":693.7},{"k":"T","x":1958.3,"y":700},{"k":"T","x":1965,"y":698.8},{"k":"T","x":1972.7,"y":698.1},{"k":"T","x":1981.7,"y":698.8},{"k":"T","x":1961.7,"y":710},{"k":"T","x":1976,"y":710},{"k":"T","x":1955,"y":717.3},{"k":"T","x":1956.7,"y":694.4},{"k":"T","x":1966.7,"y":701.8}
],
"circ":[
{"r":"Overlapping Area","x":300,"y":672.3},{"r":"Overlapping Area","x":1012.9,"y":672.3},
{"r":"Central Part","x":300,"y":672.3},{"r":"Central Part","x":1012.9,"y":672.3}
],
"labs":[
{"t":"(a)","x":412,"y":935},{"t":"(b)","x":1128,"y":935},{"t":"(c)","x":1842,"y":935}
]
},
"layer":[
{"data":{"name":"curves"},
 "mark":{"type":"line","interpolate":"monotone","strokeWidth":4.5,"strokeCap":"round"},
 "encoding":{
  "x":{"field":"x","type":"quantitative","scale":{"domain":[0,2172],"nice":false,"zero":false},"axis":null},
  "y":{"field":"y","type":"quantitative","scale":{"domain":[0,972],"nice":false,"zero":false,"reverse":true},"axis":null},
  "detail":{"field":"c","type":"nominal"},
  "stroke":{"field":"s","type":"nominal","scale":{"domain":["PN","PE","PT"],"range":["#0a78dc","#dd0000","#ffa56e"]},
   "legend":{"orient":"none","legendX":100,"legendY":24,"direction":"horizontal","title":null,"padding":0,
    "symbolType":"stroke","symbolSize":4489,"symbolStrokeWidth":4.5,
    "labelFont":"Liberation Serif","labelFontSize":42,"labelColor":"#000","labelLimit":1000,"labelOffset":31,"columnPadding":233,
    "labelExpr":"datum.label==='PN'?'PDF of Normal Samples':datum.label==='PE'?'PDF of EIF Samples':'PDF of TSIF Samples'",
    "encode":{"symbols":{"update":{"stroke":{"signal":"datum.value==='PN'?'#3a98d8':datum.value==='PE'?'#f4585a':'#ffb98c'"},"strokeCap":{"value":"round"}}}}}}
 }},
{"data":{"name":"rules"},
 "mark":{"type":"rule","strokeDash":[10,5],"strokeWidth":3},
 "encoding":{
  "x":{"field":"x","type":"quantitative"},
  "y":{"field":"y","type":"quantitative"},
  "y2":{"field":"y2"},
  "stroke":{"condition":[{"test":"datum.d==='E'","value":"#ff1010"},{"test":"datum.d==='T'","value":"#ffb080"}],"value":"#3f6fc6"}
 }},
{"data":{"name":"pts"},
 "mark":{"type":"point","filled":true,"opacity":1},
 "encoding":{
  "x":{"field":"x","type":"quantitative"},
  "y":{"field":"y","type":"quantitative"},
  "fill":{"field":"k","type":"nominal","scale":{"domain":["N","E","T"],"range":["#0a74da","#d40000","#ffa35a"]},
   "legend":{"orient":"none","legendX":687,"legendY":144,"direction":"horizontal","title":null,"padding":0,
    "symbolSize":625,"labelFont":"Liberation Serif","labelFontSize":42,"labelColor":"#000","labelLimit":1000,"labelOffset":34,"columnPadding":147,"symbolOpacity":1,
    "labelExpr":"datum.label==='N'?'Normal Samples':datum.label==='E'?'EIF Samples':'TSIF Samples'",
    "encode":{"symbols":{"update":{"fill":{"signal":"datum.value==='N'?'#3a98d8':datum.value==='E'?'#ff0000':'#ffa04f'"},"size":{"signal":"datum.value==='N'?480:datum.value==='E'?850:640"}}}}}},
  "shape":{"field":"k","type":"nominal","scale":{"domain":["N","E","T"],"range":["circle","triangle-up","square"]},
   "legend":{"orient":"none","legendX":687,"legendY":144,"direction":"horizontal","title":null,"padding":0,
    "symbolSize":625,"labelFont":"Liberation Serif","labelFontSize":42,"labelColor":"#000","labelLimit":1000,"labelOffset":34,"columnPadding":147,"symbolOpacity":1,
    "labelExpr":"datum.label==='N'?'Normal Samples':datum.label==='E'?'EIF Samples':'TSIF Samples'",
    "encode":{"symbols":{"update":{"fill":{"signal":"datum.value==='N'?'#3a98d8':datum.value==='E'?'#ff0000':'#ffa04f'"},"size":{"signal":"datum.value==='N'?480:datum.value==='E'?850:640"}}}}}},
  "size":{"condition":[{"test":"datum.k==='N'","value":30},{"test":"datum.k==='E'","value":50}],"value":42}
 }},
{"data":{"name":"circ"},
 "mark":{"type":"point","filled":true,"opacity":1,"fillOpacity":0.72,"strokeWidth":3,"strokeOpacity":1},
 "encoding":{
  "x":{"field":"x","type":"quantitative"},
  "y":{"field":"y","type":"quantitative"},
  "color":{"field":"r","type":"nominal","scale":{"domain":["Overlapping Area","Central Part"],"range":["#d3cadf","#c4d69d"]},
   "legend":{"orient":"none","legendX":684,"legendY":246,"direction":"horizontal","title":null,"padding":0,
    "symbolSize":2025,"symbolStrokeWidth":2.5,"symbolOpacity":1,
    "labelFont":"Liberation Serif","labelFontSize":42,"labelColor":"#000","labelLimit":1000,"labelOffset":35,"columnPadding":113,
    "encode":{"symbols":{"update":{"stroke":{"signal":"datum.value==='Central Part'?'#4d6526':'#4a3a60'"},"fillOpacity":{"value":1},"strokeWidth":{"value":2.5}}}}}},
  "stroke":{"condition":{"test":"datum.r==='Central Part'","value":"#4d6526"},"value":"#4a3a60"},
  "size":{"condition":{"test":"datum.r==='Overlapping Area'","value":9216},"value":3364}
 }},
{"data":{"name":"labs"},
 "mark":{"type":"text","font":"Liberation Serif","fontSize":42,"baseline":"middle","align":"center","color":"#000"},
 "encoding":{
  "x":{"field":"x","type":"quantitative"},
  "y":{"field":"y","type":"quantitative"},
  "text":{"field":"t","type":"nominal"}
 }}
]
}
